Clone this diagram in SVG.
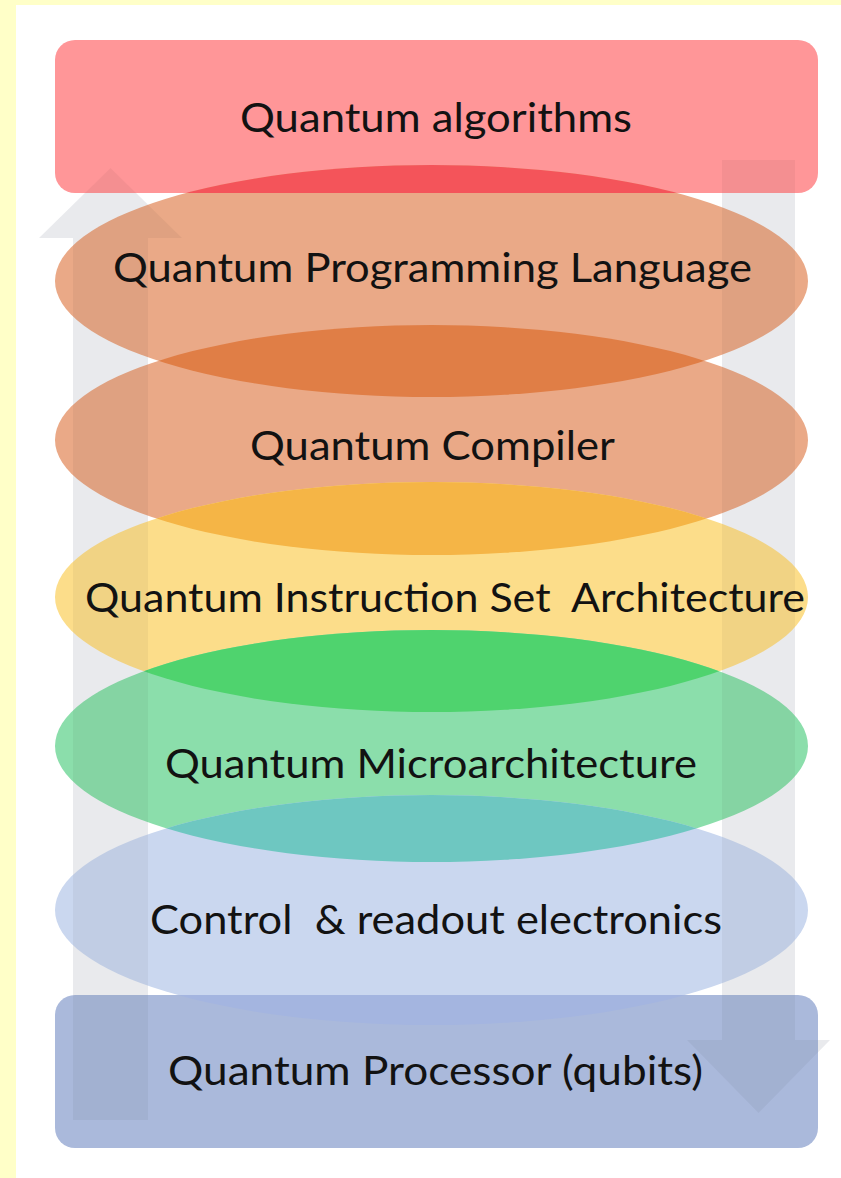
<svg xmlns="http://www.w3.org/2000/svg" width="841" height="1178" viewBox="0 0 841 1178">
<style>
.lbl{font-family:Lato,"Open Sans","Liberation Sans",sans-serif;font-size:40px;fill:#121212}
.arrBase{fill:#F4F5F8}
.arrDark{fill:#000;fill-opacity:0.045}
</style>
<defs>
<clipPath id="cTop"><rect x="55" y="40" width="763" height="153" rx="20"/></clipPath>
<clipPath id="cProg"><ellipse cx="431.5" cy="281" rx="376.5" ry="116"/></clipPath>
<clipPath id="cComp"><ellipse cx="431.5" cy="440" rx="376.5" ry="115"/></clipPath>
<clipPath id="cIsa"><ellipse cx="431.5" cy="597" rx="376.5" ry="115"/></clipPath>
<clipPath id="cMicro"><ellipse cx="431.5" cy="746" rx="376.5" ry="116"/></clipPath>
<clipPath id="cCtrl"><ellipse cx="431.5" cy="910" rx="376.5" ry="115"/></clipPath>
<path id="upArrow" d="M73,1120 L73,238 L39,238 L110.5,168 L182,238 L148,238 L148,1120 Z"/>
<path id="downArrow" d="M722,160 L795,160 L795,1040 L830,1040 L758.5,1113 L687,1040 L722,1040 Z"/>
</defs>
<rect x="0" y="0" width="841" height="1178" fill="#FFFFC8"/>
<rect x="16" y="5" width="825" height="1173" fill="#FFFFFF"/>
<g id="connectors-base">
<use href="#upArrow" class="arrBase"/>
<use href="#downArrow" class="arrBase"/>
</g>
<g id="node-algorithms">
<rect x="55" y="40" width="763" height="153" rx="20" fill="#FF9698"/>
</g>
<g id="node-programming">
<ellipse cx="431.5" cy="281" rx="376.5" ry="116" fill="#EAA987"/>
<ellipse cx="431.5" cy="281" rx="376.5" ry="116" fill="#F4545A" clip-path="url(#cTop)"/>
</g>
<g id="node-compiler">
<ellipse cx="431.5" cy="440" rx="376.5" ry="115" fill="#EAA987"/>
<ellipse cx="431.5" cy="440" rx="376.5" ry="115" fill="#E07E46" clip-path="url(#cProg)"/>
</g>
<g id="node-isa">
<ellipse cx="431.5" cy="597" rx="376.5" ry="115" fill="#FCDD8A"/>
<ellipse cx="431.5" cy="597" rx="376.5" ry="115" fill="#F5B546" clip-path="url(#cComp)"/>
</g>
<g id="node-micro">
<ellipse cx="431.5" cy="746" rx="376.5" ry="116" fill="#8BDEAB"/>
<ellipse cx="431.5" cy="746" rx="376.5" ry="116" fill="#4FD36E" clip-path="url(#cIsa)"/>
</g>
<g id="node-control">
<ellipse cx="431.5" cy="910" rx="376.5" ry="115" fill="#CAD7EF"/>
<ellipse cx="431.5" cy="910" rx="376.5" ry="115" fill="#6EC7C1" clip-path="url(#cMicro)"/>
</g>
<g id="node-processor">
<rect x="55" y="995" width="763" height="153" rx="20" fill="#AAB9DB"/>
<rect x="55" y="995" width="763" height="153" rx="20" fill="#A4B5E0" clip-path="url(#cCtrl)"/>
</g>
<g id="connectors">
<use href="#upArrow" class="arrDark"/>
<use href="#downArrow" class="arrDark"/>
</g>
<g id="labels">
<text class="lbl" x="240" y="132" textLength="392" lengthAdjust="spacingAndGlyphs">Quantum algorithms</text>
<text class="lbl" x="113" y="282" textLength="639" lengthAdjust="spacingAndGlyphs">Quantum Programming Language</text>
<text class="lbl" x="250" y="460" textLength="365" lengthAdjust="spacingAndGlyphs">Quantum Compiler</text>
<text class="lbl" x="85" y="612" textLength="720" lengthAdjust="spacingAndGlyphs" xml:space="preserve">Quantum Instruction Set  Architecture</text>
<text class="lbl" x="165" y="778" textLength="532" lengthAdjust="spacingAndGlyphs">Quantum Microarchitecture</text>
<text class="lbl" x="150" y="934" textLength="572" lengthAdjust="spacingAndGlyphs" xml:space="preserve">Control  &amp; readout electronics</text>
<text class="lbl" x="168" y="1085" textLength="535" lengthAdjust="spacingAndGlyphs">Quantum Processor (qubits)</text>
</g>
</svg>
